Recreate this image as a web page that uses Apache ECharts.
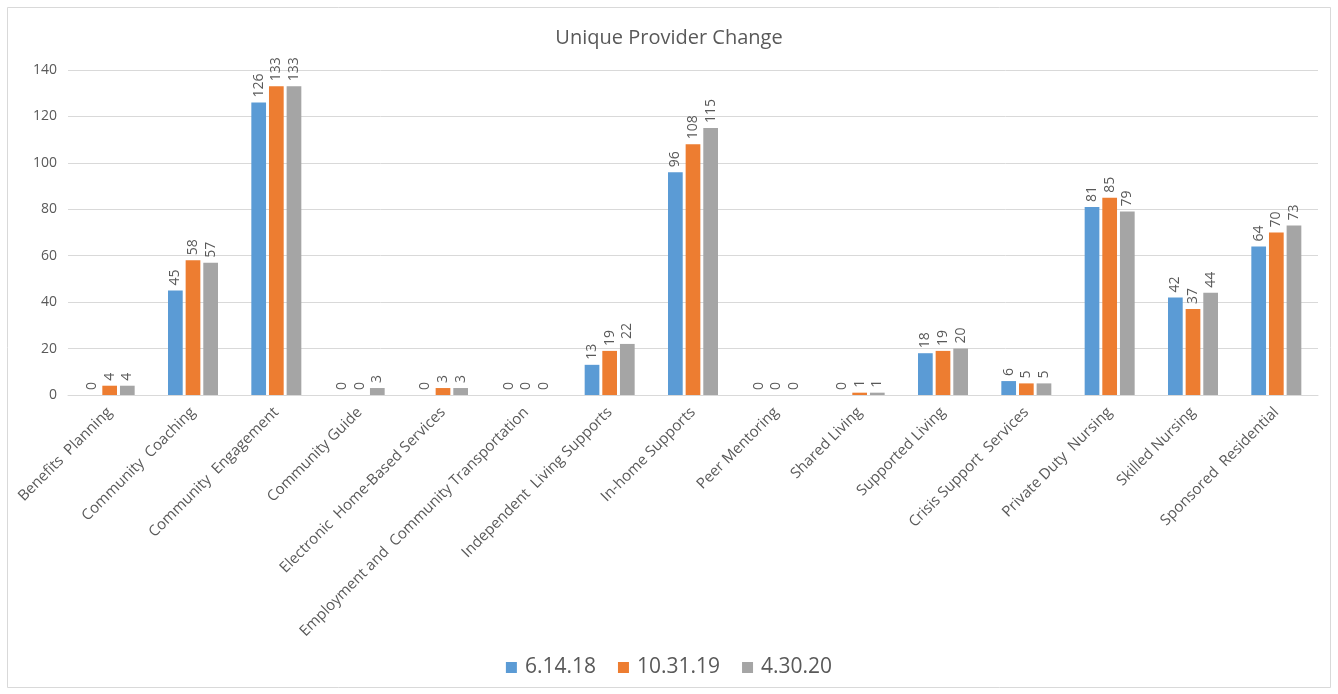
<!DOCTYPE html>
<html>
<head>
<meta charset="utf-8">
<script src="https://cdn.jsdelivr.net/npm/echarts@6/dist/echarts.min.js"></script>
<style>
  html, body { margin: 0; padding: 0; background: #fff; }
  #chart { width: 1338px; height: 694px; }
</style>
</head>
<body>
<div id="chart"></div>
<script>
const categories = [
  'Benefits  Planning', 'Community  Coaching', 'Community  Engagement', 'Community Guide',
  'Electronic  Home-Based Services', 'Employment and  Community Transportation',
  'Independent  Living Supports', 'In-home Supports', 'Peer Mentoring', 'Shared Living',
  'Supported Living', 'Crisis Support  Services', 'Private Duty  Nursing',
  'Skilled Nursing', 'Sponsored  Residential'
]
const seriesNames = ['6.14.18', '10.31.19', '4.30.20']
const vals2018 = [0, 45, 126, 0, 0, 0, 13, 96, 0, 0, 18, 6, 81, 42, 64]
const vals2019 = [4, 58, 133, 0, 3, 0, 19, 108, 0, 1, 19, 5, 85, 37, 70]
const vals2020 = [4, 57, 133, 3, 3, 0, 22, 115, 0, 1, 20, 5, 79, 44, 73]
const colors = ['#5b9bd5', '#ed7d31', '#a5a5a5']

const textColor = '#595959'
const font = '"Open Sans", sans-serif'

const mkSeries = (name, data) => ({
  name,
  type: 'bar',
  data,
  barGap: '20%',
  barCategoryGap: '40%',
  label: {
    show: true,
    position: 'top',
    rotate: 90,
    align: 'left',
    verticalAlign: 'middle',
    distance: 5,
    color: textColor,
    fontSize: 14,
    fontFamily: font
  }
})

const chart = echarts.init(document.getElementById('chart'))
chart.setOption({
  backgroundColor: '#fff',
  color: colors,
  animation: false,
  title: {
    text: 'Unique Provider Change',
    left: 'center',
    top: 23,
    textStyle: { color: textColor, fontSize: 20, fontWeight: 'normal', fontFamily: font }
  },
  legend: {
    bottom: 11,
    left: 'center',
    itemWidth: 11,
    itemHeight: 11,
    itemGap: 22,
    icon: 'rect',
    textStyle: { color: textColor, fontSize: 21, fontFamily: font, padding: [0, 0, 0, 3] },
    data: seriesNames
  },
  grid: { left: 68, right: 20, top: 70, bottom: 299, containLabel: false },
  xAxis: {
    type: 'category',
    data: categories,
    axisTick: { show: false },
    axisLine: { lineStyle: { color: '#d9d9d9', width: 1 } },
    axisLabel: {
      interval: 0,
      rotate: 45,
      color: textColor,
      fontSize: 15,
      fontFamily: font,
      margin: 15
    }
  },
  yAxis: {
    type: 'value',
    min: 0,
    max: 140,
    interval: 20,
    axisLine: { show: false },
    axisTick: { show: false },
    splitLine: { lineStyle: { color: '#d9d9d9', width: 1 } },
    axisLabel: { color: textColor, fontSize: 14, fontFamily: font, margin: 11 }
  },
  graphic: [{
    type: 'rect',
    shape: { x: 7.5, y: 7.5, width: 1323, height: 680 },
    style: { fill: 'none', stroke: '#d9d9d9', lineWidth: 1 },
    silent: true
  }],
  series: [
    mkSeries(seriesNames[0], vals2018),
    mkSeries(seriesNames[1], vals2019),
    mkSeries(seriesNames[2], vals2020)
  ]
})
</script>
</body>
</html>
